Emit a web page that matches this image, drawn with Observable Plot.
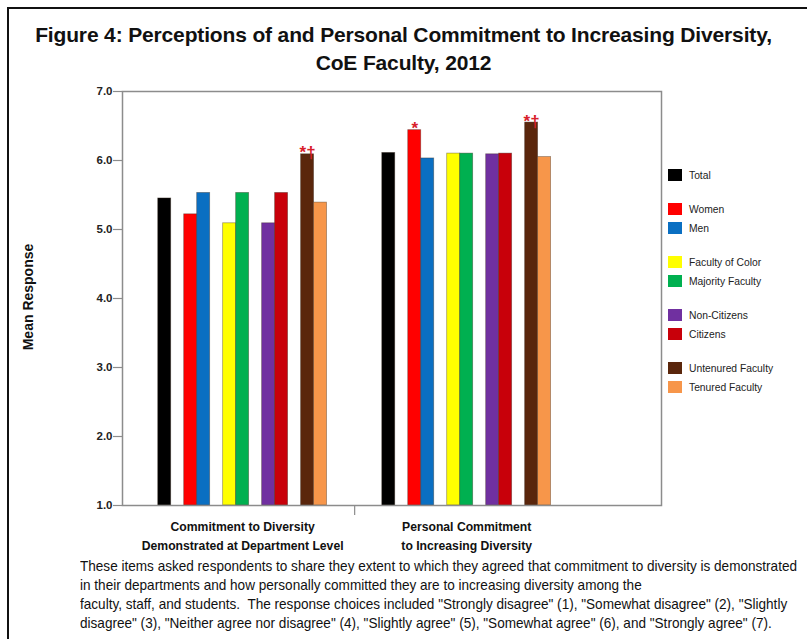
<!DOCTYPE html>
<html>
<head>
<meta charset="utf-8">
<script src="https://cdn.jsdelivr.net/npm/d3@7"></script>
<script src="https://cdn.jsdelivr.net/npm/@observablehq/plot@0.6"></script>
<style>
  body { margin: 0; background: #fff; }
  #page { position: relative; width: 807px; height: 639px; overflow: hidden; background: #fff;
          font-family: "Liberation Sans", Arial, sans-serif; color: #111; }
  #border { position: absolute; left: 7px; top: 7px; width: 900px; height: 700px;
            border-left: 2px solid #111; border-top: 2px solid #111; }
  #title { position: absolute; left: 0; top: 21px; width: 807px; text-align: center;
           font-weight: bold; font-size: 21px; line-height: 28px; letter-spacing: -0.15px; }
  #chart { position: absolute; left: 0; top: 80px; }
  #ylabel { position: absolute; left: 28px; top: 297px; transform: translate(-50%, -50%) rotate(-90deg);
            font-weight: bold; font-size: 14px; white-space: nowrap; }
  #legend { position: absolute; left: 668px; top: 0; font-size: 10.3px; color: #222; }
  .item { position: absolute; left: 0; height: 19px; display: flex; align-items: center; white-space: nowrap; }
  .sw { width: 14px; height: 12px; margin-right: 7px; flex: none; }
  #caption { position: absolute; left: 80px; top: 557px; font-size: 14.5px; line-height: 19px;
             white-space: pre; color: #111; transform-origin: 0 0; }
</style>
</head>
<body>
<div id="page">
  <div id="border"></div>
  <div id="title">Figure 4: Perceptions of and Personal Commitment to Increasing Diversity,<br>CoE Faculty, 2012</div>
  <div id="chart"></div>
  <div id="ylabel">Mean Response</div>
  <div id="legend"></div>
  <div id="caption"></div>
</div>
<script>
// Survey items (x-axis groups)
const measures = [
  "Commitment to Diversity\nDemonstrated at Department Level",
  "Personal Commitment\nto Increasing Diversity"
];
// Respondent groups, in bar order within each item
const categories = ["Total", "Women", "Men", "Faculty of Color", "Majority Faculty",
                    "Non-Citizens", "Citizens", "Untenured Faculty", "Tenured Faculty"];
// Comparison set each respondent group belongs to (bars of one set sit side by side)
const categorySets = [0, 1, 1, 2, 2, 3, 3, 4, 4];
const colors = ["#000000", "#ff0000", "#0a6fc2", "#ffff00", "#00b050",
                "#7030a0", "#c8000a", "#5a260c", "#f7964a"];
// Mean responses (1 = Strongly disagree ... 7 = Strongly agree)
const deptLevel = [5.45, 5.22, 5.53, 5.09, 5.53, 5.09, 5.53, 6.09, 5.39];
const personal  = [6.11, 6.44, 6.03, 6.10, 6.10, 6.09, 6.10, 6.55, 6.05];
// Significance markers
const deptMarks     = ["", "", "", "", "", "", "", "*\u2020", ""];
const personalMarks = ["", "*", "", "", "", "", "", "*\u2020", ""];
const yTicks = [1, 2, 3, 4, 5, 6, 7];

const captionLines = [
  "These items asked respondents to share they extent to which they agreed that commitment to diversity is demonstrated",
  "in their departments and how personally committed they are to increasing diversity among the",
  "faculty, staff, and students.  The response choices included \"Strongly disagree\" (1), \"Somewhat disagree\" (2), \"Slightly",
  "disagree\" (3), \"Neither agree nor disagree\" (4), \"Slightly agree\" (5), \"Somewhat agree\" (6), and \"Strongly agree\" (7)."
];

// Horizontal layout in bar-width units: each item cluster spans 13 units
const clusterWidth = 13;
const clusterStart = [2.75, 20];
const xExtent = 41.5;

const rows = [];
measures.forEach((m, g) => {
  const vals = g === 0 ? deptLevel : personal;
  const marks = g === 0 ? deptMarks : personalMarks;
  categories.forEach((c, i) => {
    rows.push({measure: m, category: c, value: vals[i], mark: marks[i],
               x0: clusterStart[g] + i + categorySets[i]});
  });
});
const clusterCenters = clusterStart.map(s => s + clusterWidth / 2);
const divider = (clusterStart[0] + clusterWidth + clusterStart[1]) / 2;

const chart = Plot.plot({
  width: 807,
  height: 480,
  marginLeft: 122,
  marginRight: 146,
  marginTop: 11,
  marginBottom: 55,
  style: {background: "transparent", fontFamily: "'Liberation Sans', Arial, sans-serif", overflow: "visible"},
  x: {domain: [0, xExtent], axis: null},
  y: {domain: [1, 7], axis: null},
  color: {domain: categories, range: colors},
  marks: [
    Plot.rectY(rows, {
      x1: "x0", x2: d => d.x0 + 1, y1: 1, y2: "value", fill: "category",
      stroke: "#3a2a20", strokeOpacity: 0.45, strokeWidth: 0.8
    }),
    Plot.frame({stroke: "#8c8c8c", strokeWidth: 1.5}),
    Plot.axisY({
      ticks: yTicks, tickFormat: d3.format(".1f"), tickSize: 9, tickPadding: 1,
      stroke: "#8c8c8c", strokeWidth: 1.2, fill: "#222", fontWeight: "bold", fontSize: 11.5, label: null
    }),
    Plot.axisX({
      ticks: clusterCenters, tickSize: 0, tickPadding: 12,
      tickFormat: d => measures[clusterCenters.indexOf(d)],
      fill: "#111", fontWeight: "bold", fontSize: 12.2, lineHeight: 1.55, label: null
    }),
    Plot.axisX({
      ticks: [divider], tickSize: 10, tickFormat: () => "", stroke: "#8c8c8c", strokeWidth: 1.2, label: null
    }),
    Plot.text(rows.filter(d => d.mark), {
      x: d => d.x0 + 0.5, y: "value", text: "mark", lineAnchor: "bottom",
      dy: 4, fill: "#d8202a", fontSize: 17, fontWeight: "bold"
    })
  ]
});
document.getElementById("chart").appendChild(chart);

// Legend: one row per respondent group, extra space between comparison sets
const legend = document.getElementById("legend");
const rowH = 19, setGap = 15, legendTop = 165.5;
categories.forEach((c, i) => {
  const item = document.createElement("div");
  item.className = "item";
  item.style.top = (legendTop + i * rowH + categorySets[i] * setGap) + "px";
  const sw = document.createElement("span");
  sw.className = "sw";
  sw.style.background = colors[i];
  const label = document.createElement("span");
  label.textContent = c;
  item.appendChild(sw);
  item.appendChild(label);
  legend.appendChild(item);
});

// Caption, condensed horizontally so its first line spans the text block width
const caption = document.getElementById("caption");
caption.textContent = captionLines.join("\n");
const probe = document.createElement("span");
probe.textContent = captionLines[0];
probe.style.cssText = "position:absolute;visibility:hidden;white-space:pre;font:inherit;";
caption.appendChild(probe);
const natural = probe.getBoundingClientRect().width;
caption.removeChild(probe);
caption.style.transform = "scaleX(" + (717 / natural) + ")";
</script>
</body>
</html>
